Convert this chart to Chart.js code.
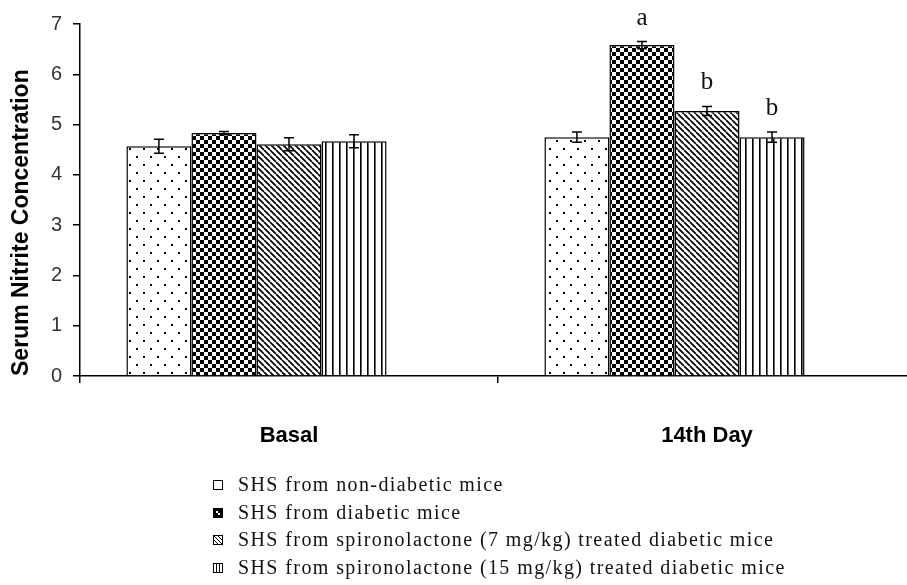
<!DOCTYPE html>
<html>
<head>
<meta charset="utf-8">
<script src="https://cdn.jsdelivr.net/npm/chart.js@4.4.1/dist/chart.umd.min.js"></script>
<style>
  html, body { margin: 0; padding: 0; background: #fff; overflow: hidden; width: 907px; height: 585px; }
  #wrap { position: absolute; left: 0; top: 0; width: 916px; height: 460px; }
  #legend { position: absolute; left: 213px; top: 471px; font-family: "Liberation Serif", serif; font-size: 20px; letter-spacing: 1.4px; color: #111; }
  .row { height: 27.7px; line-height: 27.7px; white-space: nowrap; }
  .row canvas { display: inline-block; vertical-align: 1px; margin-right: 15px; }
</style>
</head>
<body>
<div id="wrap"><canvas id="chart"></canvas></div>
<div id="legend"></div>
<script>
// categories and series
const categories = ['Basal', '14th Day'];
const seriesLabels = [
  'SHS from non-diabetic mice',
  'SHS from diabetic mice',
  'SHS from spironolactone (7 mg/kg) treated diabetic mice',
  'SHS from spironolactone (15 mg/kg) treated diabetic mice'
];
const nonDiabetic = [4.57, 4.75];
const diabetic = [4.83, 6.58];
const spiro7 = [4.61, 5.27];
const spiro15 = [4.67, 4.75];

// SEM
const nonDiabeticErr = [0.14, 0.10];
const diabeticErr = [0.03, 0.07];
const spiro7Err = [0.13, 0.09];
const spiro15Err = [0.13, 0.10];

// significance letters
const nonDiabeticSig = ['', ''];
const diabeticSig = ['', 'a'];
const spiro7Sig = ['', 'b'];
const spiro15Sig = ['', 'b'];

const seriesData = [nonDiabetic, diabetic, spiro7, spiro15];
const seriesErrors = [nonDiabeticErr, diabeticErr, spiro7Err, spiro15Err];
const seriesLetters = [nonDiabeticSig, diabeticSig, spiro7Sig, spiro15Sig];
const patternKinds = ['dots', 'checker', 'diag', 'vert'];

function makePattern(kind) {
  const c = document.createElement('canvas');
  let w = 8, h = 8;
  if (kind === 'dots') { w = 14; h = 16; }
  if (kind === 'diag') { w = 6; h = 6; }
  if (kind === 'vert') { w = 7; h = 7; }
  c.width = w; c.height = h;
  const g = c.getContext('2d');
  g.fillStyle = '#fff';
  g.fillRect(0, 0, w, h);
  g.fillStyle = '#000';
  g.strokeStyle = '#000';
  if (kind === 'dots') {
    g.fillRect(3, 4, 2, 2);
    g.fillRect(10, 12, 2, 2);
  } else if (kind === 'checker') {
    g.fillRect(0, 0, 4, 4);
    g.fillRect(4, 4, 4, 4);
  } else if (kind === 'diag') {
    g.lineWidth = 1.7;
    [-6, 0, 6].forEach(o => { g.beginPath(); g.moveTo(o, 0); g.lineTo(o + 6, 6); g.stroke(); });
  } else if (kind === 'vert') {
    g.fillRect(3, 0, 1.6, 7);
  }
  return g.createPattern(c, 'repeat');
}

// small legend box
function makeSwatch(kind) {
  const c = document.createElement('canvas');
  c.width = 10; c.height = 10;
  const g = c.getContext('2d');
  g.fillStyle = '#fff';
  g.fillRect(0, 0, 10, 10);
  g.fillStyle = '#000';
  g.strokeStyle = '#000';
  g.lineWidth = 1;
  if (kind === 'checker') {
    g.fillRect(1, 1, 8, 8);
    g.fillStyle = '#fff';
    g.fillRect(3, 3, 2, 2);
    g.fillRect(5, 5, 2, 2);
  } else if (kind === 'diag') {
    g.beginPath(); g.moveTo(1, 1); g.lineTo(9, 9); g.moveTo(1, 5); g.lineTo(5, 9); g.moveTo(5, 1); g.lineTo(9, 5); g.stroke();
  } else if (kind === 'vert') {
    g.fillRect(3, 1, 1, 8);
    g.fillRect(6, 1, 1, 8);
  }
  g.strokeRect(0.5, 0.5, 9, 9);
  return c;
}

const legend = document.getElementById('legend');
seriesLabels.forEach((lab, i) => {
  const row = document.createElement('div');
  row.className = 'row';
  row.appendChild(makeSwatch(patternKinds[i]));
  row.appendChild(document.createTextNode(lab));
  legend.appendChild(row);
});

const datasets = seriesData.map((d, i) => ({
  label: seriesLabels[i],
  data: d,
  backgroundColor: makePattern(patternKinds[i]),
  borderColor: '#000',
  borderWidth: 1.5,
  barPercentage: 1,
  categoryPercentage: 0.778
}));
// empty slot on the right of each group (as in the original layout)
datasets.push({ label: '', data: [null, null], backgroundColor: 'transparent', borderWidth: 0, barPercentage: 1, categoryPercentage: 0.778 });

const errorBars = {
  id: 'errorBars',
  afterDatasetsDraw(chart) {
    const ctx = chart.ctx;
    const y = chart.scales.y;
    ctx.save();
    ctx.strokeStyle = '#000';
    ctx.fillStyle = '#111';
    ctx.lineWidth = 1.5;
    seriesErrors.forEach((errs, i) => {
      chart.getDatasetMeta(i).data.forEach((bar, j) => {
        const v = seriesData[i][j], e = errs[j];
        const x = bar.x;
        const yt = y.getPixelForValue(v + e);
        const yb = y.getPixelForValue(v - e);
        ctx.beginPath();
        ctx.moveTo(x, yt); ctx.lineTo(x, yb);
        ctx.moveTo(x - 5, yt); ctx.lineTo(x + 5, yt);
        ctx.moveTo(x - 5, yb); ctx.lineTo(x + 5, yb);
        ctx.stroke();
        const letter = seriesLetters[i][j];
        if (letter) {
          ctx.font = '25px "Liberation Serif"';
          ctx.textAlign = 'center';
          ctx.textBaseline = 'alphabetic';
          ctx.fillText(letter, x, yt - 17);
        }
      });
    });
    ctx.restore();
  }
};

new Chart(document.getElementById('chart'), {
  type: 'bar',
  data: { labels: categories, datasets: datasets },
  options: {
    responsive: true,
    maintainAspectRatio: false,
    animation: false,
    layout: { padding: { top: 24, right: 0, left: 0, bottom: 0 } },
    plugins: { legend: { display: false }, tooltip: { enabled: false } },
    scales: {
      x: {
        offset: true,
        grid: { drawOnChartArea: false, drawTicks: true, tickLength: 7, color: '#000', lineWidth: 1.5, offset: true },
        border: { display: true, color: '#000', width: 1.5 },
        ticks: { font: { family: 'Liberation Sans', size: 22, weight: 'bold' }, color: '#000', padding: 40 },
        afterFit: s => { s.height = 84; }
      },
      y: {
        min: 0,
        max: 7,
        ticks: { stepSize: 1, font: { family: 'Liberation Sans', size: 20 }, color: '#333', padding: 11 },
        grid: { drawOnChartArea: false, tickLength: 7, color: '#000', lineWidth: 1.5 },
        border: { color: '#000', width: 1.5 },
        title: {
          display: true,
          text: 'Serum Nitrite Concentration',
          align: 'start',
          font: { family: 'Liberation Sans', size: 23, weight: 'bold' },
          color: '#000',
          padding: { top: 8, bottom: 0 }
        },
        afterFit: s => { s.width = 80; }
      }
    }
  },
  plugins: [errorBars]
});
</script>
</body>
</html>
